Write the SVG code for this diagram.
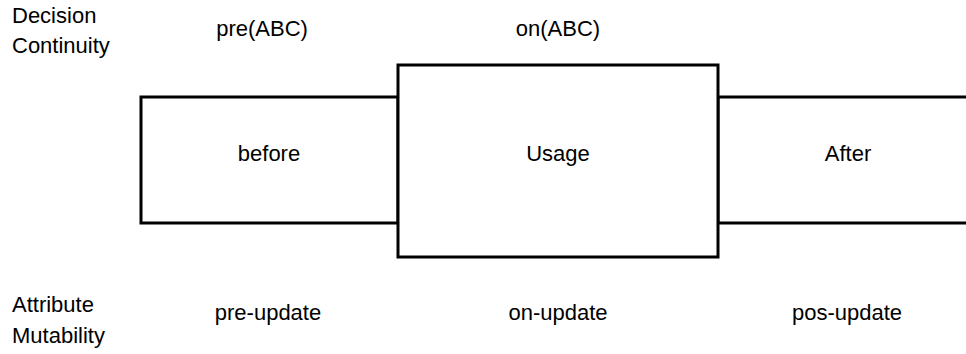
<svg xmlns="http://www.w3.org/2000/svg" width="966" height="354" viewBox="0 0 966 354">
  <style>
    .box { fill: #ffffff; stroke: #000000; stroke-width: 3; }
    .lbl { font-family: "Liberation Sans", Arial, sans-serif; font-size: 22px; fill: #000000; }
    .mid { text-anchor: middle; }
  </style>
  <rect width="966" height="354" fill="#ffffff"/>

  <!-- phase boxes -->
  <g id="before">
    <rect class="box" x="141" y="97" width="257" height="126"/>
    <text class="lbl mid" x="269" y="161">before</text>
  </g>
  <g id="after">
    <rect class="box" x="718" y="97" width="270" height="126"/>
    <text class="lbl mid" x="848" y="161">After</text>
  </g>
  <g id="usage">
    <rect class="box" x="398" y="65" width="320" height="192"/>
    <text class="lbl mid" x="558" y="161">Usage</text>
  </g>

  <g id="connectors"></g>

  <!-- row labels -->
  <g id="decision-continuity">
    <text class="lbl" x="12" y="23">Decision</text>
    <text class="lbl" x="12" y="53">Continuity</text>
    <text class="lbl mid" x="262" y="36">pre(ABC)</text>
    <text class="lbl mid" x="558" y="36">on(ABC)</text>
  </g>
  <g id="attribute-mutability">
    <text class="lbl" x="12" y="312">Attribute</text>
    <text class="lbl" x="12" y="343">Mutability</text>
    <text class="lbl mid" x="268" y="320">pre-update</text>
    <text class="lbl mid" x="558" y="320">on-update</text>
    <text class="lbl mid" x="847" y="320">pos-update</text>
  </g>
</svg>
